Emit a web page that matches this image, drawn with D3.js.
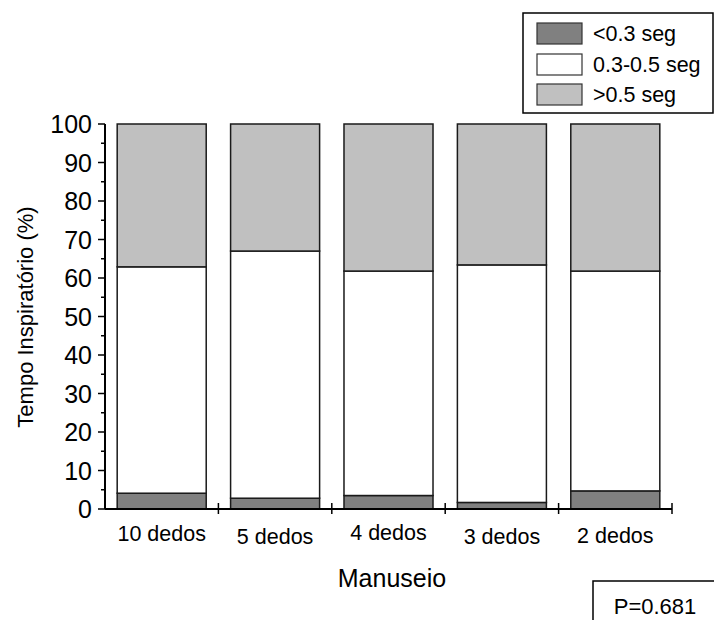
<!DOCTYPE html>
<html>
<head>
<meta charset="utf-8">
<script src="https://cdn.jsdelivr.net/npm/d3@7"></script>
<style>
  html, body { margin: 0; padding: 0; background: #fff; }
  svg { display: block; font-family: "Liberation Sans", Arial, Helvetica, sans-serif; }
</style>
</head>
<body>
<svg id="chart" width="714" height="620"></svg>
<script>
// ---- data ----
const categories = ["10 dedos", "5 dedos", "4 dedos", "3 dedos", "2 dedos"];
const seriesNames = ["<0.3 seg", "0.3-0.5 seg", ">0.5 seg"];
const lessThan03 = [4.1, 2.8, 3.5, 1.7, 4.7];
const between03and05 = [58.8, 64.2, 58.3, 61.7, 57.1];
const greaterThan05 = [37.1, 33.0, 38.2, 36.6, 38.2];
const yTicks = [0, 10, 20, 30, 40, 50, 60, 70, 80, 90, 100];
const yMinorTicks = [5, 15, 25, 35, 45, 55, 65, 75, 85, 95];
const pText = "P=0.681";

// ---- layout ----
const colors = ["#808080", "#ffffff", "#c0c0c0"];
const labelDy = [0, 3, -1, 3, 2];

const svg = d3.select("#chart");
const y = d3.scaleLinear().domain([0, 100]).range([509, 124]);
const x = d3.scaleBand().domain(categories).range([105, 672]).paddingInner(0).paddingOuter(0);
const barW = x.bandwidth() * 0.785;

const rows = categories.map((c, i) => ({
  cat: c,
  v0: lessThan03[i], v1: between03and05[i], v2: greaterThan05[i]
}));
const stack = d3.stack().keys(["v0", "v1", "v2"]);
const stacked = stack(rows);

const g = svg.append("g");
stacked.forEach((layer, li) => {
  g.selectAll(null).data(layer).enter().append("rect")
    .attr("x", d => x(d.data.cat) + (x.bandwidth() - barW) / 2)
    .attr("y", d => y(d[1]))
    .attr("width", barW)
    .attr("height", d => y(d[0]) - y(d[1]))
    .attr("fill", colors[li])
    .attr("stroke", "#1a1a1a")
    .attr("stroke-width", 1.5);
});

// y axis
const ya = svg.append("g");
ya.append("line").attr("x1", 105).attr("x2", 105).attr("y1", y(100)).attr("y2", y(0))
  .attr("stroke", "#000").attr("stroke-width", 2);
ya.selectAll(".maj").data(yTicks).enter().append("line")
  .attr("x1", 98).attr("x2", 105).attr("y1", d => y(d)).attr("y2", d => y(d))
  .attr("stroke", "#000").attr("stroke-width", 1.5);
ya.selectAll(".min").data(yMinorTicks).enter().append("line")
  .attr("x1", 101).attr("x2", 105).attr("y1", d => y(d)).attr("y2", d => y(d))
  .attr("stroke", "#000").attr("stroke-width", 1.5);
ya.selectAll("text").data(yTicks).enter().append("text")
  .attr("x", 92).attr("y", d => y(d)).attr("dy", "0.36em")
  .attr("text-anchor", "end").attr("font-size", 25).attr("fill", "#000")
  .text(d => d);

// x axis
const xa = svg.append("g");
xa.append("line").attr("x1", 105).attr("x2", 672).attr("y1", y(0)).attr("y2", y(0))
  .attr("stroke", "#000").attr("stroke-width", 2);
const bounds = categories.map(c => x(c)).concat([x(categories[categories.length - 1]) + x.bandwidth()]);
xa.selectAll(".tk").data(bounds.slice(1)).enter().append("line")
  .attr("x1", d => d).attr("x2", d => d).attr("y1", y(0) - 6).attr("y2", y(0) + 5)
  .attr("stroke", "#000").attr("stroke-width", 1.5);
xa.selectAll("text").data(categories).enter().append("text")
  .attr("x", d => x(d) + x.bandwidth() / 2)
  .attr("y", (d, i) => 541 + labelDy[i])
  .attr("text-anchor", "middle").attr("font-size", 21.5).attr("fill", "#000")
  .text(d => d);

// axis titles
svg.append("text")
  .attr("transform", "translate(33,317) rotate(-90)")
  .attr("text-anchor", "middle").attr("font-size", 22).attr("fill", "#000")
  .text("Tempo Inspiratório (%)");
svg.append("text")
  .attr("x", 392).attr("y", 587)
  .attr("text-anchor", "middle").attr("font-size", 25).attr("fill", "#000")
  .text("Manuseio");

// legend
const lg = svg.append("g");
lg.append("rect").attr("x", 523).attr("y", 13).attr("width", 190).attr("height", 100)
  .attr("fill", "#fff").attr("stroke", "#000").attr("stroke-width", 1.5);
const legY = [23, 54, 84];
seriesNames.forEach((s, i) => {
  lg.append("rect").attr("x", 537).attr("y", legY[i]).attr("width", 45).attr("height", 21)
    .attr("fill", colors[i]).attr("stroke", "#333").attr("stroke-width", 1.2);
  lg.append("text").attr("x", 593).attr("y", legY[i] + 10.5).attr("dy", "0.36em")
    .attr("font-size", 21.5).attr("fill", "#000").text(s);
});

// P box
svg.append("rect").attr("x", 593).attr("y", 581).attr("width", 140).attr("height", 60)
  .attr("fill", "#fff").attr("stroke", "#000").attr("stroke-width", 1.5);
svg.append("text").attr("x", 655).attr("y", 614)
  .attr("text-anchor", "middle").attr("font-size", 22).attr("fill", "#000")
  .text(pText);
</script>
</body>
</html>
